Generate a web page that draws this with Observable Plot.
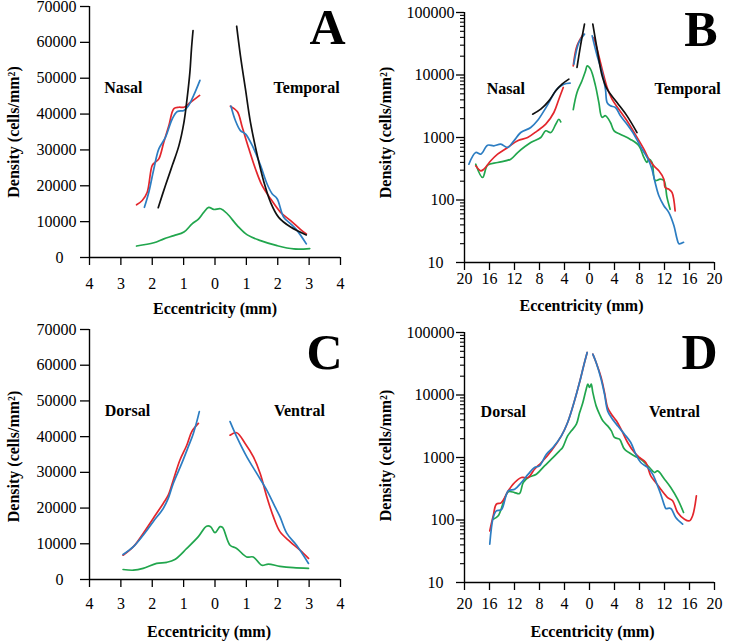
<!DOCTYPE html>
<html><head><meta charset="utf-8">
<script src="https://cdn.jsdelivr.net/npm/d3@7"></script>
<script src="https://cdn.jsdelivr.net/npm/@observablehq/plot@0.6"></script>
<style>
body{margin:0;background:#fff}
#fig{position:relative;width:730px;height:644px;overflow:hidden;background:#fff}
#fig > svg{position:absolute}
</style></head><body><div id="fig"></div>
<script>
// ---------- tick labels ----------
const linTicks = [0, 10000, 20000, 30000, 40000, 50000, 60000, 70000];
const logTicks = [10, 100, 1000, 10000, 100000];
const logMinor = [2,3,4,5,6,7,8,9].flatMap(m => [10, 100, 1000, 10000].map(d => m * d));
const mmTicksSmall = [-4, -3, -2, -1, 0, 1, 2, 3, 4];
const mmTicksLarge = [-20, -16, -12, -8, -4, 0, 4, 8, 12, 16, 20];
const labelsNT = ["Nasal", "Temporal"];
const labelsDV = ["Dorsal", "Ventral"];

// ---------- Panel A (linear, nasal / temporal) ----------
const aRedNasal = [[-2.5,14700],[-2.32,15900],[-2.16,18200],[-2.0,25700],[-1.9,26600],[-1.79,27500],[-1.63,32200],[-1.47,36800],[-1.31,41500],[-1.15,41900],[-0.99,41900],[-0.78,43300],[-0.49,45200]];
const aBlueNasal = [[-2.25,14000],[-2.11,18200],[-1.95,24700],[-1.79,30300],[-1.58,33500],[-1.36,38700],[-1.2,40700],[-0.99,41000],[-0.84,42400],[-0.68,45200],[-0.48,49400]];
const aBlackNasal = [[-1.81,13900],[-1.58,20100],[-1.36,25700],[-1.15,31200],[-0.99,37700],[-0.89,44300],[-0.8,51700],[-0.75,58200],[-0.7,63300]];
const aRedTemporal = [[0.49,42200],[0.71,40700],[0.87,36300],[1.08,30300],[1.29,24700],[1.5,20100],[1.77,16400],[2.09,12600],[2.41,10300],[2.73,7800],[2.91,6600]];
const aBlueTemporal = [[0.51,42200],[0.65,38200],[0.81,35400],[0.97,34500],[1.19,31200],[1.45,25700],[1.66,20500],[1.82,17800],[1.98,16400],[2.19,11200],[2.41,9400],[2.62,7500],[2.91,3800]];
const aBlackTemporal = [[0.69,64500],[0.81,56300],[0.97,47000],[1.13,37700],[1.35,28400],[1.56,21000],[1.77,15400],[2.03,11200],[2.41,8500],[2.91,6300]];
const aGreen = [[-2.5,3200],[-1.95,4100],[-1.63,5200],[-1.31,6100],[-0.99,7100],[-0.73,9400],[-0.52,10800],[-0.36,12600],[-0.2,14000],[-0.04,13400],[0.18,13600],[0.39,12200],[0.71,8900],[1.03,6300],[1.45,4700],[1.98,3300],[2.51,2400],[3.02,2500]];

// ---------- Panel B (log, nasal / temporal) ----------
const bBlueNasal = [[-19.3,374],[-18.2,575],[-17.4,541],[-16.3,753],[-15.3,736],[-14.2,782],[-13.1,692],[-12.1,885],[-11.0,1202],[-9.4,1445],[-8.35,1848],[-6.8,3212],[-5.2,5930],[-4.1,7130],[-3.1,7410]];
const bRedNasal = [[-18.2,352],[-17.4,293],[-16.9,311],[-15.8,424],[-14.7,541],[-13.1,692],[-11.5,885],[-9.9,1000],[-8.35,1279],[-7.0,1634],[-5.7,2512],[-4.9,4104],[-4.2,6310]];
const bBlackNasal = [[-9.1,2360],[-7.8,2840],[-6.5,3860],[-5.4,5580],[-4.4,7130],[-3.3,8580]];
const bGreenNasal = [[-18.2,374],[-17.1,229],[-16.3,360],[-14.7,398],[-12.6,450],[-11.5,575],[-9.4,830],[-7.8,1000],[-7.0,1280],[-6.2,1200],[-5.4,1630],[-4.9,1960],[-4.6,1780]];
const bBlueCentral = [[-2.5,14900],[-1.7,33100],[-0.8,45000]];
const bRedCentral = [[-2.6,14000],[-2.0,29300],[-1.0,45000]];
const bBlackCentral = [[-2.0,13200],[-1.44,29300],[-0.8,65000]];
const bBlueTemporal = [[0.43,42300],[1.22,20300],[2.02,11000],[2.55,5930],[2.82,3630],[3.35,3210],[4.15,3020],[4.95,2220],[6.0,1630],[7.1,1130],[8.1,736],[8.9,541],[9.5,424],[10.0,311],[10.5,191],[11.1,117],[11.9,81],[12.7,63],[13.5,39],[14.0,24],[14.3,20],[15.05,21]];
const bRedTemporal = [[0.69,39800],[1.22,25900],[2.02,12400],[2.82,6310],[3.6,4100],[4.7,2840],[6.0,1850],[7.3,1130],[8.7,650],[9.5,450],[10.3,352],[11.1,293],[11.9,215],[12.1,158],[12.7,149],[13.2,132],[13.7,67]];
const bBlackTemporal = [[0.53,65000],[1.22,25900],[2.02,9700],[2.82,5930],[4.4,3630],[6.0,2220],[7.6,1200]];
const bGreenTemporal = [[-2.6,2800],[-2.0,5250],[-1.2,8100],[-0.64,11600],[-0.37,14000],[0.16,12400],[0.96,6700],[1.49,3650],[2.0,2100],[2.55,2230],[3.35,1740],[3.9,1290],[4.9,1130],[6.5,940],[7.9,740],[8.7,480],[9.2,400],[9.5,450],[10.0,400],[10.5,205],[11.3,215],[11.9,205],[12.4,110],[12.9,71]];

// ---------- Panel C (linear, dorsal / ventral) ----------
const cRedDorsal = [[-2.93,6800],[-2.6,9200],[-2.29,12900],[-1.97,17100],[-1.65,21300],[-1.49,23600],[-1.33,27800],[-1.12,33400],[-0.9,37600],[-0.74,41400],[-0.53,43700]];
const cBlueDorsal = [[-2.93,7000],[-2.6,9200],[-2.29,12400],[-1.97,16200],[-1.65,19900],[-1.49,22700],[-1.33,26900],[-1.06,32500],[-0.85,37200],[-0.69,40900],[-0.5,47000]];
const cRedVentral = [[0.48,40400],[0.69,41100],[0.96,38100],[1.22,34400],[1.44,29700],[1.65,23200],[1.86,17600],[2.07,13400],[2.39,10600],[2.71,8200],[2.98,5900]];
const cBlueVentral = [[0.48,44200],[0.69,40000],[1.01,34400],[1.33,29700],[1.65,25000],[1.91,20400],[2.07,17600],[2.29,12900],[2.6,9600],[2.98,4500]];
const cGreen = [[-2.93,2800],[-2.6,2600],[-2.29,3100],[-1.86,4500],[-1.54,4800],[-1.28,5600],[-0.9,8700],[-0.53,12000],[-0.27,14900],[-0.14,14800],[0,13100],[0.16,14800],[0.24,14600],[0.48,9600],[0.69,8700],[1.01,6300],[1.22,6300],[1.49,4000],[1.7,4300],[2.07,3700],[2.5,3300],[2.98,3100]];

// ---------- Panel D (log, dorsal / ventral) ----------
const dRedDorsal = [[-15.96,67],[-15.4,117],[-14.9,179],[-14.1,190],[-13.0,293],[-11.97,398],[-10.9,479],[-9.8,479],[-8.8,650],[-7.7,832],[-6.1,1280],[-4.5,2220],[-3.5,3630],[-2.4,8070],[-1.6,15800],[-0.8,33100],[-0.37,47900]];
const dBlueDorsal = [[-15.96,41],[-15.4,110],[-14.9,140],[-14.1,146],[-13.0,293],[-11.97,311],[-10.9,398],[-9.8,541],[-8.8,692],[-8.0,736],[-6.9,1130],[-5.85,1445],[-4.5,2220],[-3.5,3630],[-2.4,8070],[-1.6,15800],[-0.8,33100],[-0.37,47900]];
const dRedVentral = [[0.53,45000],[1.06,33100],[1.86,19100],[2.4,11000],[2.9,6310],[3.5,4930],[4.3,3860],[5.05,2840],[6.1,1740],[7.2,1200],[8.0,1000],[9.0,832],[9.8,509],[10.6,398],[11.4,311],[12.5,229],[13.3,203],[14.1,132],[15.2,103],[16.0,97],[16.5,117],[17.1,244]];
const dBlueVentral = [[0.53,45000],[1.06,33100],[1.86,17900],[2.4,10300],[2.9,5580],[3.5,4370],[4.5,3210],[5.6,2360],[6.6,1740],[7.4,1130],[8.2,832],[9.3,692],[10.1,541],[10.9,352],[11.4,259],[12.0,169],[12.2,153],[13.0,153],[13.8,110],[14.9,86]];
const dGreen = [[-15.4,103],[-14.6,117],[-13.0,282],[-12.0,275],[-11.2,265],[-10.6,398],[-9.8,479],[-8.5,541],[-7.2,736],[-6.1,940],[-4.8,1280],[-4.3,1445],[-3.5,2220],[-2.9,2670],[-2.1,3410],[-1.6,5130],[-1.06,7590],[-0.53,12400],[-0.27,14900],[0,13200],[0.27,14900],[0.53,11000],[1.06,6700],[1.6,4930],[2.13,3860],[2.9,3210],[3.5,2670],[4.0,2090],[4.8,1960],[5.6,1360],[7.2,1060],[8.2,940],[9.6,692],[10.4,575],[10.9,612],[12.0,450],[13.0,331],[14.1,215],[15.05,132]];

// ---------- styling ----------
const RED = "#e3262c", BLUE = "#2c7dc2", GREEN = "#21a64d", BLACK = "#111111";
const FONT = "'Liberation Serif','Times New Roman',Times,serif";

const panels = [
  {letter:"A", left:0, top:0, h:322, mt:6, mb:65, ml:89, mr:25, log:false, xTicks:mmTicksSmall, xDomain:[-4,4], xPad:12,
   series:[[aRedNasal,RED],[aBlueNasal,BLUE],[aBlackNasal,BLACK],[aRedTemporal,RED],[aBlueTemporal,BLUE],[aBlackTemporal,BLACK],[aGreen,GREEN]],
   regions:labelsNT, regionX:[-2.92,2.92], regionY:46000, letterDx:5, letterDy:37, yTitleDx:-76, yTitleDy:0, xTitleDx:0, xTitleDy:56},
  {letter:"B", left:365, top:0, h:322, mt:12, mb:60, ml:99, mr:16, log:true, xTicks:mmTicksLarge, xDomain:[-20,20], xPad:2,
   series:[[bGreenNasal,GREEN],[bRedNasal,RED],[bBlueNasal,BLUE],[bBlackNasal,BLACK],[bGreenTemporal,GREEN],[bRedCentral,RED],[bBlueCentral,BLUE],[bBlackCentral,BLACK],[bRedTemporal,RED],[bBlueTemporal,BLUE],[bBlackTemporal,BLACK]],
   regions:labelsNT, regionX:[-13.4,15.7], regionY:5000, letterDx:3, letterDy:33, yTitleDx:-79, yTitleDy:-5, xTitleDx:-8, xTitleDy:48},
  {letter:"C", left:0, top:322, h:322, mt:7, mb:65, ml:89, mr:25, log:false, xTicks:mmTicksSmall, xDomain:[-4,4], xPad:10,
   series:[[cRedDorsal,RED],[cBlueDorsal,BLUE],[cRedVentral,RED],[cBlueVentral,BLUE],[cGreen,GREEN]],
   regions:labelsDV, regionX:[-2.79,2.69], regionY:45700, letterDx:2, letterDy:39, yTitleDx:-76, yTitleDy:2, xTitleDx:-6, xTitleDy:57},
  {letter:"D", left:365, top:322, h:322, mt:10, mb:62, ml:99, mr:16, log:true, xTicks:mmTicksLarge, xDomain:[-20,20], xPad:7,
   series:[[dGreen,GREEN],[dRedDorsal,RED],[dBlueDorsal,BLUE],[dRedVentral,RED],[dBlueVentral,BLUE]],
   regions:labelsDV, regionX:[-13.8,13.6], regionY:4470, letterDx:3, letterDy:36, yTitleDx:-79, yTitleDy:-2, xTitleDx:3, xTitleDy:54}
];

const fig = document.getElementById("fig");
for (const p of panels) {
  const yDomain = p.log ? [10, 100000] : [0, 70000];
  const yMajor = p.log ? logTicks : linTicks;
  const yOdd = yMajor[0];           // the bottom label sits further left in the original
  const marks = [
    Plot.ruleX([p.xDomain[0]], {stroke:"#000", strokeWidth:1.4}),
    Plot.ruleY([yDomain[0]], {stroke:"#000", strokeWidth:1.4}),
    Plot.axisX(p.xTicks, {tickSize:8, tickPadding:p.xPad, tickFormat:d => String(Math.abs(d)), fontSize:16, label:null, strokeWidth:1.3}),
    Plot.axisY(yMajor, {tickSize:p.log ? 8 : 9, tickPadding:p.log ? 2 : 4, tickFormat:d => d === yOdd ? "" : String(d), fontSize:16, label:null, strokeWidth:1.3}),
    Plot.axisY([yOdd], {tickSize:0, tickPadding:p.log ? 21 : 26, tickFormat:d => String(d), fontSize:16, label:null})
  ];
  if (p.log) marks.push(Plot.axisY(logMinor, {tickSize:4, tickFormat:() => "", label:null, strokeWidth:1.1}));
  for (const [data, color] of p.series) {
    marks.push(Plot.line(data, {x:d => d[0], y:d => d[1], stroke:color, strokeWidth:1.7, curve:"catmull-rom"}));
  }
  marks.push(
    Plot.text(p.regions, {x:(d, i) => p.regionX[i], y:() => p.regionY, text:d => d, fontSize:16, fontWeight:"bold", textAnchor:"middle", lineAnchor:"bottom"}),
    Plot.text([p.letter], {frameAnchor:"top-right", textAnchor:"end", lineAnchor:"bottom", dx:p.letterDx, dy:p.letterDy, fontSize:50, fontWeight:"bold"}),
    Plot.text(["Density (cells/mm²)"], {frameAnchor:"left", rotate:-90, textAnchor:"middle", lineAnchor:"middle", dx:p.yTitleDx, dy:p.yTitleDy, fontSize:16, fontWeight:"bold"}),
    Plot.text(["Eccentricity (mm)"], {frameAnchor:"bottom", textAnchor:"middle", lineAnchor:"bottom", dx:p.xTitleDx, dy:p.xTitleDy, fontSize:16, fontWeight:"bold"})
  );
  const svg = Plot.plot({
    width:365, height:p.h,
    marginTop:p.mt, marginBottom:p.mb, marginLeft:p.ml, marginRight:p.mr,
    x:{domain:p.xDomain},
    y:p.log ? {type:"log", domain:yDomain} : {type:"linear", domain:yDomain},
    style:{fontFamily:FONT, fontSize:"16px", color:"#000", background:"transparent", overflow:"visible"},
    marks
  });
  svg.style.left = p.left + "px";
  svg.style.top = p.top + "px";
  fig.appendChild(svg);
}
</script></body></html>
